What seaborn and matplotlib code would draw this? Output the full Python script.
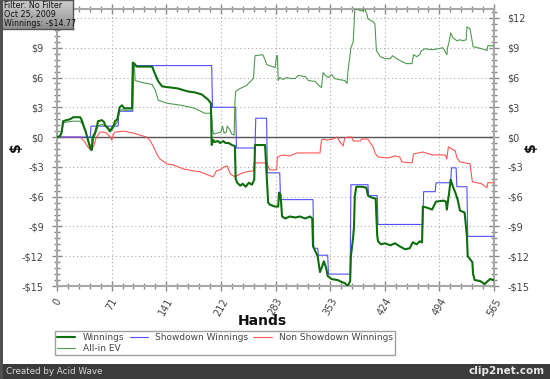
import matplotlib
matplotlib.use('Agg')
import matplotlib.pyplot as plt
import seaborn as sns
import pandas as pd
import numpy as np
from matplotlib.ticker import MultipleLocator, FuncFormatter, FixedLocator
from matplotlib.patches import Rectangle
from matplotlib.lines import Line2D

sns.set_theme(style='white')
plt.rcParams['font.family'] = ['DejaVu Sans']

# ---------------- data ----------------
win_hands = [0, 4, 6, 8, 12, 17, 21, 30, 32, 35, 37, 40, 43, 45, 46, 49, 52, 53, 58, 61, 62, 66, 68, 71,
             74, 75, 78, 79, 81, 84, 87, 97, 98, 100, 103, 123, 127, 131, 136, 146, 156, 169, 178, 187,
             195, 199, 200, 202, 204, 208, 211, 215, 218, 222, 226, 230, 231, 233, 237, 240, 244, 248,
             252, 255, 256, 269, 271, 273, 275, 282, 286, 287, 289, 291, 295, 301, 308, 314, 321, 327,
             330, 331, 334, 337, 340, 343, 345, 348, 350, 355, 363, 368, 372, 376, 379, 380, 383, 384,
             385, 387, 394, 400, 402, 407, 412, 414, 415, 419, 424, 431, 437, 443, 450, 456, 460, 465,
             469, 472, 473, 478, 485, 490, 500, 503, 504, 507, 509, 512, 515, 518, 521, 527, 530, 531,
             534, 537, 538, 540, 547, 553, 557, 560, 565]
win_vals = [0, 0.1, 0.5, 1.6, 1.7, 1.8, 2.0, 2.0, 1.7, 1.0, 0.6, -0.3, -1.1, -1.3, 0.0, 0.4, 1.2, 1.6, 1.7,
            1.5, 1.2, 0.9, 0.6, 0.9, 1.3, 1.6, 1.8, 2.2, 3.0, 3.2, 2.9, 2.9, 7.5, 7.4, 7.1, 7.1, 6.3, 5.6,
            5.1, 5.0, 4.9, 4.6, 4.5, 4.3, 3.8, 3.4, -0.8, -0.3, -0.5, -0.4, -0.6, -0.4, -0.6, -0.6, -0.8,
            -0.9, -4.2, -4.6, -4.9, -4.7, -5.0, -4.6, -4.8, -4.3, -0.8, -0.8, -3.6, -6.6, -6.8, -7.0, -7.0,
            -5.6, -5.8, -8.0, -8.2, -8.0, -8.1, -8.0, -8.2, -8.0, -8.2, -11.0, -11.5, -12.0, -13.6, -13.0,
            -12.5, -13.2, -14.0, -14.3, -14.4, -14.6, -14.7, -15.0, -14.5, -12.0, -10.0, -9.0, -6.0, -5.0,
            -5.0, -5.1, -5.9, -6.1, -6.2, -9.9, -10.5, -10.8, -10.7, -10.9, -10.7, -11.0, -11.3, -11.2,
            -10.6, -10.8, -10.5, -10.6, -7.0, -7.1, -7.3, -6.5, -6.4, -6.5, -7.3, -5.6, -4.3, -5.0, -5.6,
            -6.3, -7.4, -7.6, -10.0, -12.0, -12.3, -12.6, -13.8, -14.4, -14.5, -14.8, -14.5, -14.3, -14.4]

sd_hands = [0, 43, 44, 79, 80, 98, 99, 200, 201, 231, 232, 256, 257, 271, 272, 288, 289, 331, 332, 337,
            338, 350, 351, 379, 380, 402, 403, 414, 415, 473, 474, 489, 490, 509, 510, 516, 517, 530,
            531, 565]
sd_vals = [0, 0, 1.1, 1.1, 2.6, 2.6, 7.2, 7.2, 3.0, 3.0, -1.1, -1.1, 1.9, 1.9, -3.6, -3.6, -6.3, -6.3,
           -11.2, -11.2, -11.9, -11.9, -13.8, -13.8, -4.8, -4.8, -5.9, -5.9, -8.8, -8.8, -5.5, -5.5,
           -4.6, -4.6, -3.1, -3.1, -5.0, -5.0, -10.0, -10.0]

nsd_hands = [0, 30, 35, 40, 43, 47, 51, 56, 60, 64, 69, 71, 73, 75, 86, 99, 107, 116, 120, 125, 129,
             133, 142, 150, 163, 176, 185, 198, 202, 206, 211, 216, 220, 224, 230, 237, 245, 254, 255,
             271, 275, 284, 285, 292, 301, 310, 331, 340, 342, 344, 349, 357, 362, 366, 370, 372, 376,
             381, 383, 392, 394, 402, 405, 409, 411, 415, 428, 437, 443, 446, 459, 461, 473, 485, 502,
             504, 506, 515, 517, 521, 534, 537, 549, 556, 557, 565]
nsd_vals = [0, 0, -0.4, -1.0, -1.3, -1.0, 0.0, 0.5, 0.5, 0.4, 0.0, -0.3, 0.3, 0.5, 0.6, 0.4, 0.2, 0.0,
            -0.3, -1.0, -1.7, -2.2, -2.7, -2.8, -3.2, -3.4, -3.5, -3.9, -4.0, -3.4, -3.3, -3.0, -2.9,
            -3.7, -4.0, -3.7, -3.5, -3.4, -2.6, -2.6, -3.3, -3.3, -2.0, -1.8, -1.9, -1.6, -1.6, -1.6,
            -0.3, -0.2, -0.3, -0.2, 0.0, -0.5, -0.9, -0.1, 0.0, 0.0, -0.4, -0.4, -0.2, -0.2, -0.6, -1.0,
            -1.6, -2.0, -2.1, -1.9, -2.0, -2.5, -2.6, -1.7, -1.5, -1.8, -1.8, -2.2, -1.0, -1.4, -2.1,
            -2.5, -2.7, -4.5, -4.7, -5.1, -4.6, -4.6]

ev_hands = [0, 4, 6, 8, 12, 21, 30, 33, 36, 40, 43, 45, 47, 50, 53, 58, 62, 66, 69, 72, 75, 78, 81, 84,
            87, 97, 98, 100, 101, 110, 123, 127, 131, 143, 161, 178, 191, 199, 200, 201, 203, 207, 212,
            214, 216, 219, 220, 223, 226, 229, 230, 231, 237, 245, 250, 254, 256, 266, 269, 271, 282,
            284, 285, 286, 288, 292, 297, 302, 308, 312, 321, 325, 334, 336, 340, 342, 344, 347, 351,
            355, 359, 364, 372, 375, 376, 380, 383, 385, 387, 394, 398, 401, 402, 409, 411, 413, 418,
            424, 431, 434, 439, 446, 452, 459, 461, 465, 469, 471, 476, 485, 493, 499, 504, 505, 507,
            509, 512, 517, 521, 525, 529, 530, 534, 538, 544, 553, 556, 557, 565]
ev_vals = [0, 0.1, 0.4, 1.4, 1.5, 1.6, 1.6, 1.3, 0.7, -0.2, -0.9, -1.3, -0.3, 0.4, 1.1, 1.3, 1.1, 0.8,
           0.5, 0.8, 1.2, 1.5, 2.6, 2.8, 2.7, 2.7, 7.5, 7.3, 5.7, 5.5, 5.3, 4.7, 3.7, 3.4, 3.2, 2.9, 2.4,
           2.4, 2.1, 0.7, 0.3, 0.4, 0.5, 1.1, 0.4, 0.5, 1.1, 0.8, 0.3, 0.2, 3.5, 4.6, 4.9, 5.2, 5.6,
           5.9, 8.2, 8.3, 7.8, 7.3, 7.0, 8.2, 8.2, 5.7, 6.0, 5.8, 6.0, 5.9, 5.9, 6.2, 6.1, 5.7, 5.6, 5.4,
           5.1, 5.0, 6.5, 6.2, 6.0, 6.3, 5.9, 5.8, 5.7, 5.4, 6.5, 9.0, 9.6, 12.8, 12.9, 12.7, 12.9,
           12.3, 11.9, 11.6, 11.4, 8.7, 8.1, 7.9, 7.9, 8.2, 7.9, 7.6, 7.4, 7.4, 8.3, 8.1, 8.3, 8.7, 8.9,
           8.8, 8.9, 9.0, 8.3, 9.0, 9.6, 10.5, 10.0, 9.7, 9.8, 9.7, 9.8, 11.1, 10.9, 9.1, 9.0, 8.8, 8.7,
           9.2, 9.2]

x_tick_labels = ['0', '71', '141', '212', '283', '353', '424', '494', '565']
y_tick_values = [-15, -12, -9, -6, -3, 0, 3, 6, 9, 12]
series_names = ['Winnings', 'Showdown Winnings', 'Non Showdown Winnings', 'All-in EV']
series_colors = ['#0e6e0e', '#5050ff', '#ff5555', '#4f9a4f']
info_lines = ['Filter: No Filter', 'Oct 25, 2009', 'Winnings: -$14.77']

# ---------------- figure ----------------
W, H = 550, 379
fig = plt.figure(figsize=(W / 100, H / 100), dpi=100)
fig.patch.set_facecolor('white')
ax = fig.add_axes([57 / W, 1 - 286 / H, 437 / W, 277 / H])
ax.set_facecolor('white')

def frame(h, v):
    return pd.DataFrame({'Hands': h, 'value': v})

# draw order: red, blue, EV, winnings on top
sns.lineplot(data=frame(nsd_hands, nsd_vals), x='Hands', y='value', estimator=None, sort=False,
             color=series_colors[2], lw=0.8, ax=ax, zorder=3)
sns.lineplot(data=frame(sd_hands, sd_vals), x='Hands', y='value', estimator=None, sort=False,
             color=series_colors[1], lw=0.8, ax=ax, zorder=4)
sns.lineplot(data=frame(ev_hands, ev_vals), x='Hands', y='value', estimator=None, sort=False,
             color=series_colors[3], lw=0.8, ax=ax, zorder=5)
sns.lineplot(data=frame(win_hands, win_vals), x='Hands', y='value', estimator=None, sort=False,
             color=series_colors[0], lw=1.5, ax=ax, zorder=6)

ax.axhline(0, color='#555555', lw=1.0, zorder=2)

n_hands = int(x_tick_labels[-1])
ax.set_xlim(0, n_hands)
ax.set_ylim(-15, 12.9)

xpos = [n_hands * k / 8 for k in range(9)]
ax.xaxis.set_major_locator(FixedLocator(xpos))
ax.set_xticklabels(x_tick_labels)
ax.xaxis.set_minor_locator(MultipleLocator(n_hands / 40))
ax.yaxis.set_major_locator(FixedLocator(y_tick_values))
ax.yaxis.set_minor_locator(MultipleLocator(0.6))

def money(v, pos):
    v = int(round(v))
    return f'${v}' if v >= 0 else f'-${-v}'
ax.yaxis.set_major_formatter(FuncFormatter(money))

ax.grid(True, which='major', linestyle=(0, (1, 2.5)), color='#aaaaaa', lw=0.8)
for s in ax.spines.values():
    s.set_color('#a8a8a8')
    s.set_linewidth(1.5)
    s.set_visible(True)

ax.tick_params(which='both', direction='inout', color='#8a8a8a', width=1,
               top=True, right=True, left=True, bottom=True, labelright=True, labelleft=True)
ax.tick_params(which='major', length=7)
ax.tick_params(which='minor', length=5)
ax.tick_params(axis='y', which='major', labelsize=7, labelcolor='#444444', pad=6)
ax.tick_params(axis='x', which='major', labelsize=7, labelcolor='#444444', pad=4)
for lab in ax.get_xticklabels():
    lab.set_rotation(60)
    lab.set_ha('center')
    lab.set_va('top')
# the left "$12" label is hidden under the info box in the reference
ax.yaxis.get_major_ticks()[-1].label1.set_visible(False)

ax.set_xlabel('')
ax.set_ylabel('')
fig.text(262 / W, 1 - 321 / H, 'Hands', ha='center', va='center', fontsize=10, fontweight='bold',
         color='#111111')
fig.text(16 / W, 1 - 147 / H, '$', ha='center', va='center', fontsize=10, fontweight='bold',
         rotation=90, color='#111111')
fig.text(531 / W, 1 - 147 / H, '$', ha='center', va='center', fontsize=10, fontweight='bold',
         rotation=90, color='#111111')

# legend
if ax.get_legend() is not None:
    ax.get_legend().remove()
handles = [Line2D([], [], color=series_colors[0], lw=1.5),
           Line2D([], [], color=series_colors[3], lw=0.8),
           Line2D([], [], color=series_colors[1], lw=0.8),
           Line2D([], [], color=series_colors[2], lw=0.8)]
labels = [series_names[0], series_names[3], series_names[1], series_names[2]]
leg = fig.legend(handles, labels, ncol=3, mode='expand', loc='lower left',
                 bbox_to_anchor=(55 / W, 1 - 355 / H, 340 / W, 22 / H), bbox_transform=fig.transFigure,
                 fontsize=6.5, frameon=True, fancybox=False, edgecolor='#8a8a8a',
                 handlelength=2.0, handletextpad=0.8, labelspacing=0.15, borderpad=0.25,
                 borderaxespad=0, columnspacing=1.0)
leg.get_frame().set_linewidth(1.0)
for t in leg.get_texts():
    t.set_color('#444444')

# bottom bar and left border
fig.patches.append(Rectangle((0, 0), 1, 15 / H, transform=fig.transFigure, facecolor='#3b3b3b',
                             edgecolor='none', zorder=0))
fig.patches.append(Rectangle((0, 0), 2.5 / W, 1, transform=fig.transFigure, facecolor='#505050',
                             edgecolor='none', zorder=0))
fig.text(6 / W, 7.5 / H, 'Created by Acid Wave', ha='left', va='center', fontsize=6.3, color='#d8d8d8')
fig.text(545 / W, 7.5 / H, 'clip2net.com', ha='right', va='center', fontsize=7.5, color='#e8e8e8',
         fontweight='bold')

# info box with gradient
box_h = 29
ibox = fig.add_axes([0, 1 - box_h / H, 73 / W, box_h / H])
grad = np.linspace(0, 1, 50).reshape(-1, 1)
ibox.imshow(grad, aspect='auto', cmap=matplotlib.colors.LinearSegmentedColormap.from_list(
    'g', ['#cfcfcf', '#8f8f8f']), extent=[0, 1, 0, 1], origin='upper')
ibox.set_xlim(0, 1)
ibox.set_ylim(0, 1)
ibox.set_xticks([])
ibox.set_yticks([])
for s in ibox.spines.values():
    s.set_color('#555555')
    s.set_linewidth(1)
for i, line in enumerate(info_lines):
    ibox.text(0.05, 1 - (5.3 + 9.2 * i) / box_h, line, ha='left', va='center', fontsize=5.8,
              color='#111111')

fig.savefig('out.png', dpi=100, facecolor='white')
